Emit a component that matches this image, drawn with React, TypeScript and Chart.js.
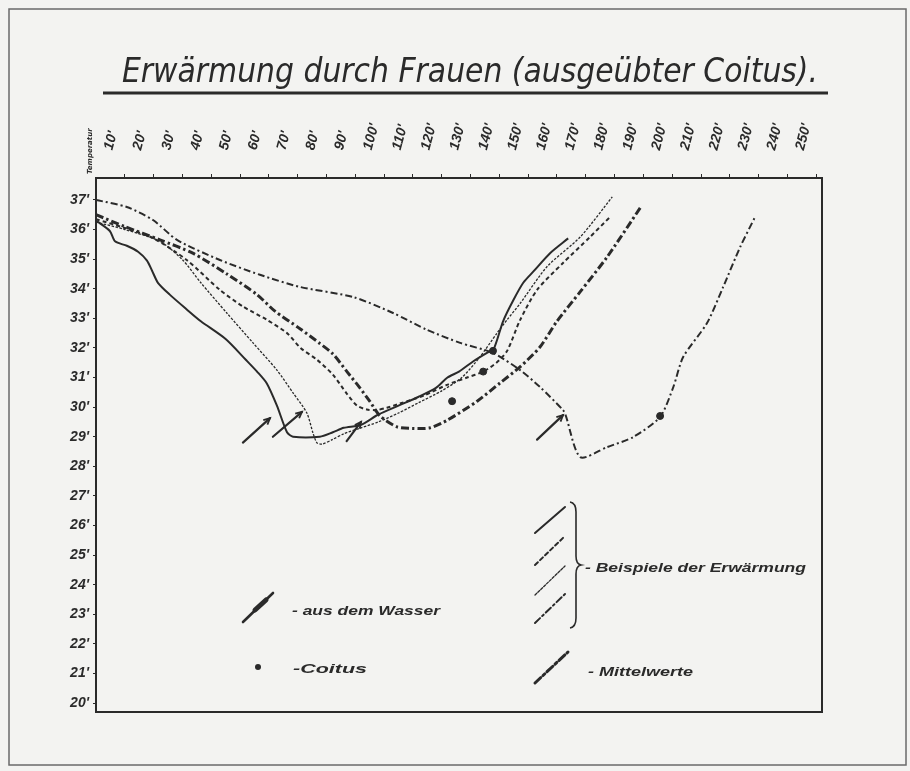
import React, { useEffect, useRef } from 'react';
import { Chart, registerables } from 'chart.js';

Chart.register(...registerables);

// ---- Tick labels ----
const xTickValues = [10, 20, 30, 40, 50, 60, 70, 80, 90, 100, 110, 120, 130, 140, 150, 160, 170, 180, 190, 200, 210, 220, 230, 240, 250];
const yTickValues = [20, 21, 22, 23, 24, 25, 26, 27, 28, 29, 30, 31, 32, 33, 34, 35, 36, 37];

// ---- Beispiel 1 (solid) ----
const solidMin = [0, 4.8, 6.6, 10.7, 14.6, 17.7, 19.5, 21.5, 25.6, 31.5, 36.4, 45, 52, 55.9, 59.3, 62.8, 66.3, 68.4, 77.7, 82.2, 86, 92, 98, 105, 112, 118, 122, 126, 131, 136, 138, 141.3, 144.8, 148.3, 152, 157.6, 163.9];
const solidTemp = [36.3, 35.95, 35.6, 35.45, 35.25, 34.95, 34.6, 34.2, 33.8, 33.3, 32.9, 32.3, 31.6, 31.2, 30.8, 30.05, 29.15, 29.0, 29.0, 29.15, 29.3, 29.4, 29.75, 30.05, 30.35, 30.65, 31.0, 31.2, 31.55, 31.85, 31.95, 32.9, 33.6, 34.2, 34.6, 35.2, 35.7];

// ---- Beispiel 2 (dashed) ----
const dashedMin = [0, 10, 20, 31.5, 43, 51, 59.3, 66.3, 71, 76.7, 82.2, 87.1, 90.6, 94, 97.5, 101, 105.5, 114, 121.8, 128.8, 134.4, 139, 142.7, 147.2, 153.1, 162.1, 171.5, 178.5];
const dashedTemp = [36.35, 36.05, 35.7, 34.97, 33.96, 33.4, 32.95, 32.5, 32.0, 31.6, 31.1, 30.45, 30.05, 29.92, 29.9, 29.98, 30.12, 30.4, 30.75, 31.0, 31.2, 31.5, 31.9, 32.94, 33.96, 34.87, 35.75, 36.43];

// ---- Beispiel 3 (fine) ----
const fineMin = [0, 10, 22.2, 30.1, 36.4, 45.4, 54.5, 62.8, 68.4, 73.2, 75.3, 76.7, 78.5, 82, 86, 92, 98, 105, 112, 120, 127, 133.3, 139.2, 142.7, 147.2, 156.6, 168.1, 179.2];
const fineTemp = [36.25, 36.0, 35.6, 34.97, 34.2, 33.18, 32.17, 31.25, 30.48, 29.8, 29.13, 28.79, 28.75, 28.9, 29.1, 29.3, 29.5, 29.8, 30.15, 30.55, 31.0, 31.7, 32.5, 32.95, 33.5, 34.75, 35.75, 37.1];

// ---- Beispiel 4 (dash-dot) ----
const dashDotMin = [0, 10.7, 19.8, 28.1, 43, 56.9, 70.8, 89.2, 103.1, 114.9, 126.4, 137.8, 147.2, 154.1, 162.1, 163, 168.1, 177.4, 186.5, 195.8, 200.4, 203.8, 212.1, 217.7, 223.6, 228.8];
const dashDotTemp = [37.0, 36.76, 36.32, 35.65, 34.97, 34.47, 34.06, 33.72, 33.18, 32.61, 32.17, 31.83, 31.25, 30.68, 29.9, 29.73, 28.31, 28.65, 28.99, 29.67, 30.68, 31.69, 32.84, 34.06, 35.41, 36.43];

// ---- Mittelwerte ----
const meanMin = [0, 10, 22.2, 33.6, 45.4, 55.9, 62, 70.8, 77.7, 82.2, 87.1, 91.6, 95, 98.6, 104.5, 110, 116, 121.8, 132.3, 140.3, 147.2, 154.1, 160, 168.1, 177.4, 188.9];
const meanTemp = [36.5, 36.1, 35.65, 35.2, 34.5, 33.8, 33.25, 32.65, 32.15, 31.8, 31.2, 30.65, 30.2, 29.7, 29.33, 29.28, 29.3, 29.55, 30.2, 30.82, 31.36, 32.03, 32.9, 33.9, 35.07, 36.73];

// ---- Coitus points ----
const coitusMin = [123.6, 134.4, 137.8, 195.8];
const coitusTemp = [30.2, 31.2, 31.9, 29.7];

// ---- "aus dem Wasser" arrows ----
const arrowFromMin = [51, 61.4, 87, 153.1];
const arrowFromTemp = [28.8, 29.0, 28.85, 28.9];
const arrowToMin = [60.4, 71.5, 92, 162.1];
const arrowToTemp = [29.63, 29.84, 29.5, 29.73];

const TITLE = 'Erwärmung durch Frauen (ausgeübter Coitus).';
const INK = '#2a2a2a';

const zip = (xs: number[], ys: number[]) => xs.map((x, i) => ({ x, y: ys[i] }));

function fitText(ctx: CanvasRenderingContext2D, text: string, x: number, y: number, w: number, font: string, center = false) {
  ctx.save();
  ctx.font = font;
  const m = ctx.measureText(text).width;
  const s = w / m;
  ctx.translate(x, y);
  ctx.scale(s, 1);
  ctx.textAlign = 'left';
  ctx.textBaseline = 'alphabetic';
  ctx.fillStyle = INK;
  ctx.fillText(text, center ? -m / 2 : 0, 0);
  ctx.restore();
}

function seg(ctx: CanvasRenderingContext2D, x1: number, y1: number, x2: number, y2: number, w: number, dash: number[]) {
  ctx.save();
  ctx.strokeStyle = INK;
  ctx.lineWidth = w;
  ctx.setLineDash(dash);
  ctx.lineCap = 'round';
  ctx.beginPath();
  ctx.moveTo(x1, y1);
  ctx.lineTo(x2, y2);
  ctx.stroke();
  ctx.restore();
}

function arrow(ctx: CanvasRenderingContext2D, x1: number, y1: number, x2: number, y2: number) {
  seg(ctx, x1, y1, x2, y2, 2.2, []);
  const a = Math.atan2(y2 - y1, x2 - x1);
  const L = 7;
  ctx.save();
  ctx.strokeStyle = INK;
  ctx.lineWidth = 1.8;
  ctx.beginPath();
  ctx.moveTo(x2 - L * Math.cos(a - 0.45), y2 - L * Math.sin(a - 0.45));
  ctx.lineTo(x2, y2);
  ctx.lineTo(x2 - L * Math.cos(a + 0.45), y2 - L * Math.sin(a + 0.45));
  ctx.stroke();
  ctx.restore();
}

const paperPlugin = {
  id: 'paper',
  beforeDraw(chart: any) {
    const ctx = chart.ctx as CanvasRenderingContext2D;
    ctx.save();
    ctx.fillStyle = '#f3f3f1';
    ctx.fillRect(0, 0, chart.width, chart.height);
    ctx.strokeStyle = '#6a6a6a';
    ctx.lineWidth = 1.5;
    ctx.strokeRect(9, 9, 897, 756);
    ctx.restore();
    // title
    fitText(ctx, TITLE, 470, 82, 696, "italic 34px 'Liberation Sans Narrow', 'DejaVu Sans Condensed', 'DejaVu Sans', sans-serif", true);
    ctx.save();
    ctx.strokeStyle = INK;
    ctx.lineWidth = 3;
    ctx.beginPath();
    ctx.moveTo(103, 93);
    ctx.lineTo(828, 93);
    ctx.stroke();
    ctx.restore();
    // axis caption
    ctx.save();
    ctx.translate(90, 174);
    ctx.rotate(-Math.PI / 2);
    ctx.font = "italic bold 7px 'DejaVu Sans', sans-serif";
    ctx.fillStyle = INK;
    ctx.textBaseline = 'middle';
    ctx.fillText('Temperatur', 0, 0);
    ctx.restore();
  },
  afterDraw(chart: any) {
    const ctx = chart.ctx as CanvasRenderingContext2D;
    const ca = chart.chartArea;
    const xs = chart.scales.x;
    const ys = chart.scales.y;
    ctx.save();
    ctx.strokeStyle = INK;
    ctx.lineWidth = 2;
    ctx.strokeRect(ca.left, ca.top, ca.right - ca.left, ca.bottom - ca.top);
    ctx.restore();
    // arrows
    for (let i = 0; i < arrowFromMin.length; i++) {
      arrow(ctx, xs.getPixelForValue(arrowFromMin[i]), ys.getPixelForValue(arrowFromTemp[i]), xs.getPixelForValue(arrowToMin[i]), ys.getPixelForValue(arrowToTemp[i]));
    }
    // legend (left)
    const lf = "italic bold 13px 'Liberation Sans', 'DejaVu Sans', sans-serif";
    seg(ctx, 243, 622, 273, 593, 2.6, []);
    seg(ctx, 255, 610, 266, 600, 5, []);
    fitText(ctx, '- aus dem Wasser', 292, 615, 148, lf);
    ctx.save();
    ctx.fillStyle = INK;
    ctx.beginPath();
    ctx.arc(258, 667, 3, 0, Math.PI * 2);
    ctx.fill();
    ctx.restore();
    fitText(ctx, '-Coitus', 293, 673, 74, lf);
    // legend (right)
    seg(ctx, 535, 533, 565, 507, 2, []);
    seg(ctx, 535, 565, 565, 536, 2, [4, 3]);
    seg(ctx, 535, 595, 565, 566, 1.3, [2.5, 1.5]);
    seg(ctx, 535, 623, 565, 594, 2, [7, 3, 2, 3]);
    ctx.save();
    ctx.strokeStyle = INK;
    ctx.lineWidth = 1.6;
    ctx.beginPath();
    ctx.moveTo(570, 502);
    ctx.quadraticCurveTo(576, 503, 576, 512);
    ctx.lineTo(576, 556);
    ctx.quadraticCurveTo(576, 564, 581, 565);
    ctx.quadraticCurveTo(576, 566, 576, 574);
    ctx.lineTo(576, 618);
    ctx.quadraticCurveTo(576, 627, 570, 628);
    ctx.stroke();
    ctx.restore();
    fitText(ctx, '- Beispiele der Erwärmung', 585, 572, 221, lf);
    seg(ctx, 535, 683, 568, 652, 3, [8, 3, 2.5, 3]);
    fitText(ctx, '- Mittelwerte', 588, 676, 105, lf);
  },
};

export default function App() {
  const ref = useRef<HTMLCanvasElement | null>(null);
  useEffect(() => {
    if (!ref.current) return;
    const base = { pointRadius: 0, borderColor: INK, backgroundColor: INK, tension: 0.25, fill: false };
    const tickFont = { family: "'Liberation Sans', 'DejaVu Sans', sans-serif", size: 14, style: 'italic', weight: 'bold' };
    const chart = new Chart(ref.current, {
      type: 'line',
      data: {
        datasets: [
          { ...base, label: 'Beispiel 1', data: zip(solidMin, solidTemp), borderWidth: 2 },
          { ...base, label: 'Beispiel 2', data: zip(dashedMin, dashedTemp), borderWidth: 2, borderDash: [4, 3] },
          { ...base, label: 'Beispiel 3', data: zip(fineMin, fineTemp), borderWidth: 1.3, borderDash: [2.5, 1.5] },
          { ...base, label: 'Beispiel 4', data: zip(dashDotMin, dashDotTemp), borderWidth: 2, borderDash: [7, 3, 2, 3] },
          { ...base, label: 'Mittelwerte', data: zip(meanMin, meanTemp), borderWidth: 3, borderDash: [8, 3, 2.5, 3] },
          { label: 'Coitus', data: zip(coitusMin, coitusTemp), showLine: false, pointRadius: 3.5, pointBackgroundColor: INK, pointBorderColor: INK, borderColor: INK },
        ],
      } as any,
      options: {
        responsive: false,
        animation: false,
        layout: { padding: { left: 0, top: 0, right: 88, bottom: 59 } },
        plugins: { legend: { display: false }, title: { display: false }, tooltip: { enabled: false } },
        scales: {
          x: {
            type: 'linear',
            position: 'top',
            min: 0,
            max: 252,
            afterBuildTicks: (s: any) => { s.ticks = xTickValues.map((v) => ({ value: v })); },
            afterFit: (s: any) => { s.height = 178; s.paddingLeft = 0; s.paddingRight = 0; },
            ticks: {
              autoSkip: false,
              minRotation: 75,
              maxRotation: 75,
              padding: 22,
              color: INK,
              font: tickFont,
              callback: (v: any) => v + "'",
            },
            grid: { display: true, drawOnChartArea: false, drawTicks: true, tickLength: 4, color: INK },
            border: { display: true, color: INK, width: 2 },
          },
          y: {
            type: 'linear',
            min: 19.7,
            max: 37.74,
            afterBuildTicks: (s: any) => { s.ticks = yTickValues.map((v) => ({ value: v })); },
            afterFit: (s: any) => { s.width = 96; },
            ticks: {
              autoSkip: false,
              padding: 4,
              color: INK,
              font: tickFont,
              callback: (v: any) => v + "'",
            },
            grid: { display: true, drawOnChartArea: false, drawTicks: true, tickLength: 3, color: INK },
            border: { display: true, color: INK, width: 2 },
          },
        },
      } as any,
      plugins: [paperPlugin],
    });
    return () => chart.destroy();
  }, []);
  return (
    <div style={{ position: 'absolute', left: 0, top: 0, width: 910, height: 771, background: '#f3f3f1' }}>
      <canvas ref={ref} width={910} height={771} />
    </div>
  );
}
